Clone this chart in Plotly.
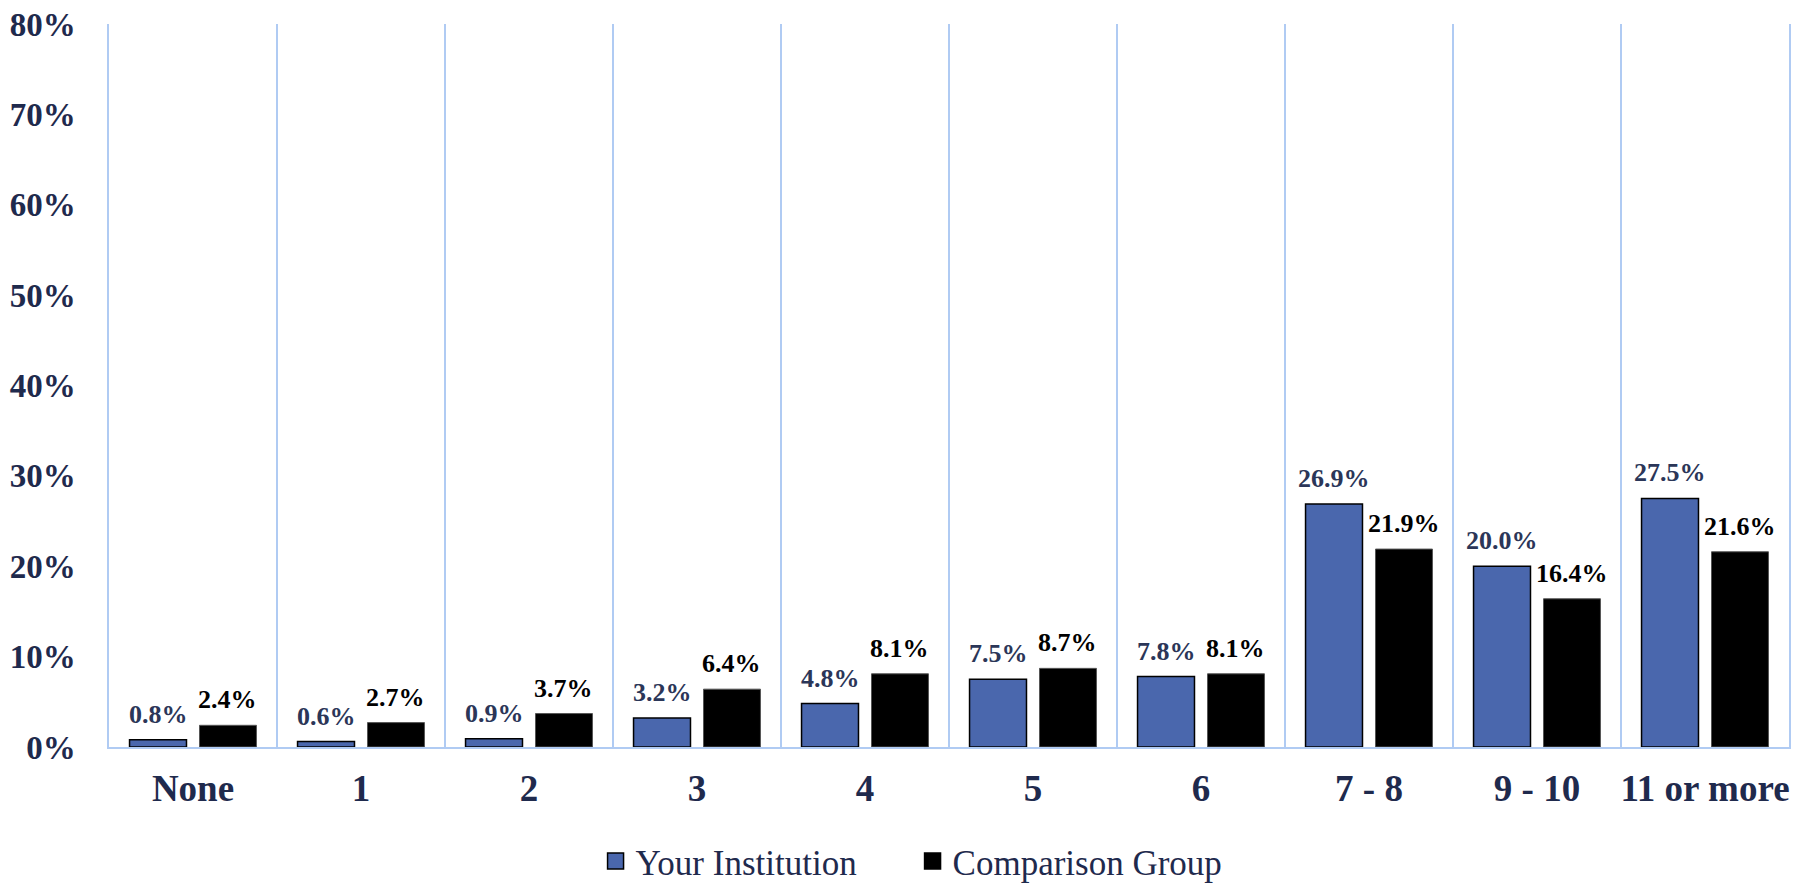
import plotly.graph_objects as go

categories = ["None", "1", "2", "3", "4", "5", "6", "7 - 8", "9 - 10", "11 or more"]
your_institution = [0.8, 0.6, 0.9, 3.2, 4.8, 7.5, 7.8, 26.9, 20.0, 27.5]
comparison_group = [2.4, 2.7, 3.7, 6.4, 8.1, 8.7, 8.1, 21.9, 16.4, 21.6]
y_ticks = [0, 10, 20, 30, 40, 50, 60, 70, 80]

NAVY = "#1f2a4d"
BLUE = "#4a67ad"
GRID = "#b0cbf3"
FONT = "Liberation Serif"
BARGAP = 0.167

positions = list(range(len(categories)))

fig = go.Figure()

fig.add_trace(
    go.Bar(
        name="Your Institution",
        x=positions,
        y=your_institution,
        marker={"color": BLUE, "line": {"color": "#000000", "width": 1.5}},
        showlegend=False,
    )
)
fig.add_trace(
    go.Bar(
        name="Comparison Group",
        x=positions,
        y=comparison_group,
        marker={"color": "#000000", "line": {"color": "#555555", "width": 1}},
        showlegend=False,
    )
)

# value labels as annotations so they can sit a bit higher above the bars
slot = (1 - BARGAP) / 2
series = [
    (your_institution, -slot / 2, "#2b3658"),
    (comparison_group, slot / 2, "#000000"),
]
for values, offset, color in series:
    for pos, v in zip(positions, values):
        fig.add_annotation(
            x=pos + offset,
            y=v,
            text=f"<b>{v:.1f}%</b>",
            showarrow=False,
            xanchor="center",
            yanchor="bottom",
            yshift=9,
            font={"family": FONT, "size": 26, "color": color},
        )

# legend swatches (bigger squares than the default bar legend symbol)
for name, color in [("Your Institution", BLUE), ("Comparison Group", "#000000")]:
    fig.add_trace(
        go.Scatter(
            name=name,
            x=[None],
            y=[None],
            mode="markers",
            marker={
                "symbol": "square",
                "size": 16,
                "color": color,
                "line": {"color": "#000000", "width": 1.5},
            },
        )
    )

fig.update_layout(
    width=1802,
    height=886,
    margin={"l": 109, "r": 13, "t": 24, "b": 139, "autoexpand": False},
    paper_bgcolor="white",
    plot_bgcolor="white",
    barmode="group",
    bargap=BARGAP,
    bargroupgap=0.186,
    font={"family": FONT, "color": NAVY},
    showlegend=True,
    legend={
        "orientation": "h",
        "xref": "container",
        "yref": "container",
        "x": 0.3305,
        "xanchor": "left",
        "y": 0.028,
        "yanchor": "middle",
        "entrywidth": 272,
        "font": {"family": FONT, "size": 35, "color": NAVY},
        "itemclick": False,
        "itemsizing": "trace",
    },
)

fig.update_xaxes(
    range=[-0.5, len(categories) - 0.5],
    tickmode="array",
    tickvals=positions,
    ticktext=[f"<b>{c}</b>" for c in categories],
    tickfont={"family": FONT, "size": 37, "color": NAVY},
    showgrid=False,
    zeroline=False,
    showline=True,
    linecolor=GRID,
    linewidth=2,
    ticks="",
    automargin=False,
    ticklabelstandoff=8,
    minor={
        "tickmode": "linear",
        "tick0": -0.5,
        "dtick": 1,
        "showgrid": True,
        "gridcolor": GRID,
        "gridwidth": 1.5,
        "ticks": "",
    },
)

fig.update_yaxes(
    range=[0, 80],
    tickmode="array",
    tickvals=y_ticks,
    ticktext=[f"<b>{t}%</b>" for t in y_ticks],
    tickfont={"family": FONT, "size": 33, "color": NAVY},
    showgrid=False,
    zeroline=False,
    showline=True,
    mirror=True,
    linecolor=GRID,
    linewidth=1.5,
    ticks="",
    automargin=False,
    ticklabelstandoff=25,
)

# page body has a default 8px margin; drop it so the figure fills the window
fig.write_html(
    "out.html",
    config={"displayModeBar": False},
    post_script="document.body.style.margin='0px';",
)
